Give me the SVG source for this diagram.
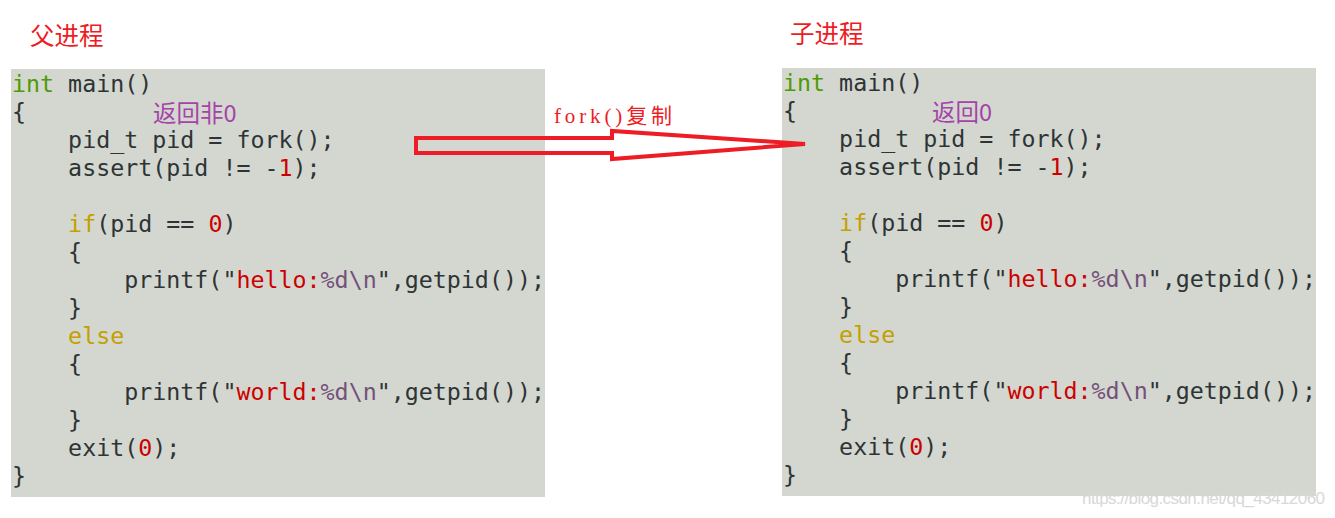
<svg xmlns="http://www.w3.org/2000/svg" width="1335" height="518" viewBox="0 0 1335 518">
<style>
.bg{fill:#d3d7cf}
.code{font-family:"DejaVu Sans Mono",monospace;font-size:23.3px;fill:#2e3436;white-space:pre}
.kt{fill:#4e9a06}.kw{fill:#c4a000}.num{fill:#cc0000}.esc{fill:#75507b}
.title{font-family:"Noto Sans CJK SC",sans-serif;font-size:24.5px;fill:#ee1c25}
.note{font-family:"Noto Sans CJK SC",sans-serif;font-size:23.5px;fill:#a444a8}
.lbl{font-family:"Liberation Serif","Noto Sans CJK SC",serif;font-size:21px;fill:#ee1c25}
.wm{font-family:"Liberation Sans",sans-serif;font-size:17px;fill:#d8d8d8}
</style>
<defs>
<g id="codeblock">
<text class="code" x="12" y="92" xml:space="preserve"><tspan class="kt">int</tspan> main()</text>
<text class="code" x="12" y="120" xml:space="preserve">{</text>
<text class="code" x="12" y="148" xml:space="preserve">    pid_t pid = fork();</text>
<text class="code" x="12" y="176" xml:space="preserve">    assert(pid != -<tspan class="num">1</tspan>);</text>
<text class="code" x="12" y="232" xml:space="preserve">    <tspan class="kw">if</tspan>(pid == <tspan class="num">0</tspan>)</text>
<text class="code" x="12" y="260" xml:space="preserve">    {</text>
<text class="code" x="12" y="288" xml:space="preserve">        printf("<tspan class="num">hello:</tspan><tspan class="esc">%d\n</tspan>",getpid());</text>
<text class="code" x="12" y="316" xml:space="preserve">    }</text>
<text class="code" x="12" y="344" xml:space="preserve">    <tspan class="kw">else</tspan></text>
<text class="code" x="12" y="372" xml:space="preserve">    {</text>
<text class="code" x="12" y="400" xml:space="preserve">        printf("<tspan class="num">world:</tspan><tspan class="esc">%d\n</tspan>",getpid());</text>
<text class="code" x="12" y="428" xml:space="preserve">    }</text>
<text class="code" x="12" y="456" xml:space="preserve">    exit(<tspan class="num">0</tspan>);</text>
<text class="code" x="12" y="484" xml:space="preserve">}</text>
</g>
</defs>
<rect width="1335" height="518" fill="#ffffff"/>
<g id="parent">
<text class="title" x="30" y="45">父进程</text>
<rect class="bg" x="11" y="69" width="534" height="428"/>
<use href="#codeblock"/>
<text class="note" x="153" y="122">返回非0</text>
</g>
<g id="child">
<text class="title" x="790" y="43">子进程</text>
<rect class="bg" x="782" y="68" width="534" height="428"/>
<use href="#codeblock" transform="translate(771,-1)"/>
<text class="note" x="932" y="121">返回0</text>
</g>
<g id="connectors">
<polygon points="416,138 612,138 612,131 805,144 612,159 612,153 416,153" fill="none" stroke="#ee1c25" stroke-width="4" stroke-linejoin="miter"/>
<text class="lbl" x="554" y="123" textLength="118">fork()复制</text>
</g>
<text class="wm" x="1082" y="504" textLength="243">https://blog.csdn.net/qq_43412060</text>
</svg>
